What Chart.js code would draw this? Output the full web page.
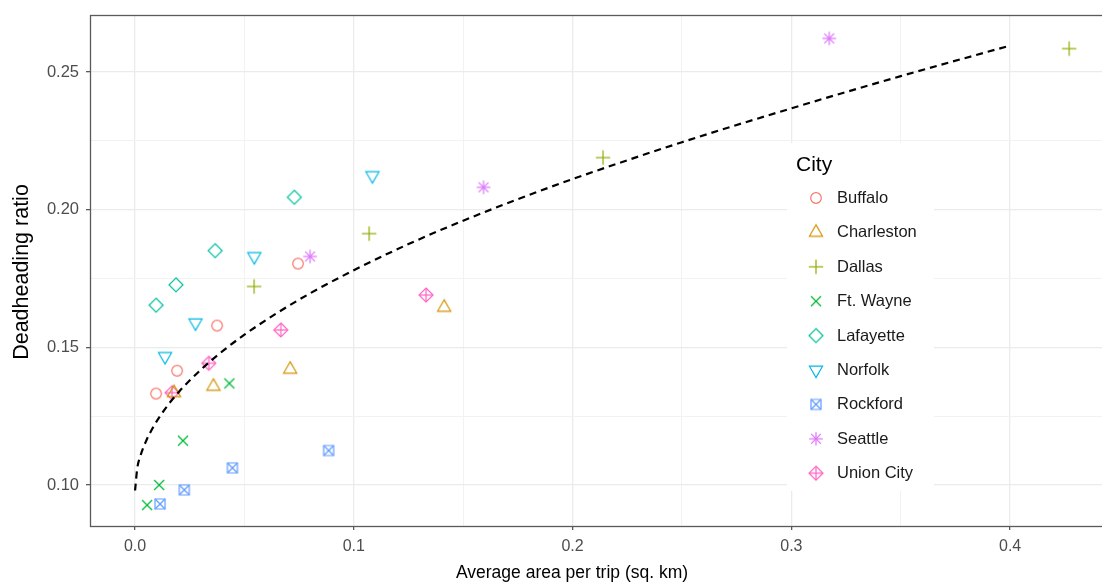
<!DOCTYPE html>
<html>
<head>
<meta charset="utf-8">
<script src="https://cdn.jsdelivr.net/npm/chart.js@4.4.1/dist/chart.umd.min.js"></script>
<style>
html,body{margin:0;padding:0;background:#fff;}
#wrap{width:1102px;height:582px;position:relative;}
</style>
</head>
<body>
<div id="wrap"><canvas id="c" width="1102" height="582"></canvas></div>
<script>
// ---- data ----
const cities = ["Buffalo","Charleston","Dallas","Ft. Wayne","Lafayette","Norfolk","Rockford","Seattle","Union City"];
const cityColors = ["#F8766D","#D39200","#93AA00","#00BA38","#00C19F","#00B9E3","#619CFF","#DB72FB","#FF61C3"];
const cityShapes = ["circle","triangle","plus","cross","diamond","triangleDown","squareCross","asterisk","diamondPlus"];

const buffaloX    = [0.0096, 0.0192, 0.0375, 0.0745];
const buffaloY    = [0.1332, 0.1415, 0.1579, 0.1804];
const charlestonX = [0.0178, 0.0358, 0.0709, 0.1413];
const charlestonY = [0.1335, 0.1358, 0.1420, 0.1645];
const dallasX     = [0.0544, 0.1070, 0.2139, 0.4270];
const dallasY     = [0.1721, 0.1913, 0.2189, 0.2585];
const ftWayneX    = [0.0055, 0.0110, 0.0219, 0.0431];
const ftWayneY    = [0.0927, 0.1000, 0.1161, 0.1369];
const lafayetteX  = [0.0096, 0.0187, 0.0366, 0.0728];
const lafayetteY  = [0.1653, 0.1727, 0.1851, 0.2045];
const norfolkX    = [0.0137, 0.0276, 0.0545, 0.1085];
const norfolkY    = [0.1467, 0.1589, 0.1830, 0.2124];
const rockfordX   = [0.0114, 0.0225, 0.0445, 0.0885];
const rockfordY   = [0.0931, 0.0982, 0.1062, 0.1125];
const seattleX    = [0.0800, 0.1593, 0.3173];
const seattleY    = [0.1830, 0.2081, 0.2622];
const unionCityX  = [0.0169, 0.0337, 0.0666, 0.1330];
const unionCityY  = [0.1335, 0.1442, 0.1563, 0.1690];

const cityX = [buffaloX, charlestonX, dallasX, ftWayneX, lafayetteX, norfolkX, rockfordX, seattleX, unionCityX];
const cityY = [buffaloY, charlestonY, dallasY, ftWayneY, lafayetteY, norfolkY, rockfordY, seattleY, unionCityY];

// dashed fitted curve
const fitX = [0, 0.001, 0.0025, 0.005, 0.0075, 0.01, 0.015, 0.02, 0.03, 0.04, 0.05, 0.065, 0.08, 0.1, 0.125, 0.15, 0.175, 0.2, 0.25, 0.3, 0.35, 0.4];
const fitY = [0.098, 0.106, 0.1107, 0.1159, 0.1199, 0.1233, 0.129, 0.1338, 0.1418, 0.1486, 0.1546, 0.1625, 0.1696, 0.178, 0.1875, 0.196, 0.2038, 0.2111, 0.2245, 0.2368, 0.2485, 0.2596];

// ticks
const xMajor = [0, 0.1, 0.2, 0.3, 0.4];
const xMinor = [0.05, 0.15, 0.25, 0.35];
const xLabels = ["0.0", "0.1", "0.2", "0.3", "0.4"];
const yMajor = [0.10, 0.15, 0.20, 0.25];
const yMinor = [0.125, 0.175, 0.225];
const yLabels = ["0.10", "0.15", "0.20", "0.25"];

const xTitle = "Average area per trip (sq. km)";
const yTitle = "Deadheading ratio";
const legendTitle = "City";

// ---- marker images ----
function makeMarker(shape, color){
  const s = 22, c = s/2;
  const cv = document.createElement('canvas');
  cv.width = s; cv.height = s;
  const g = cv.getContext('2d');
  g.strokeStyle = color; g.lineWidth = 1.2; g.lineCap = 'butt'; g.lineJoin = 'miter';
  const line = (x1,y1,x2,y2)=>{g.beginPath();g.moveTo(c+x1,c+y1);g.lineTo(c+x2,c+y2);g.stroke();};
  const poly = (pts)=>{g.beginPath();pts.forEach((p,i)=>i?g.lineTo(c+p[0],c+p[1]):g.moveTo(c+p[0],c+p[1]));g.closePath();g.stroke();};
  if (shape==="circle"){ g.beginPath(); g.arc(c,c,5.3,0,Math.PI*2); g.stroke(); }
  else if (shape==="triangle"){ const r=7.6; poly([[0,-r],[r*0.866,r*0.5],[-r*0.866,r*0.5]]); }
  else if (shape==="triangleDown"){ const r=7.6; poly([[0,r],[r*0.866,-r*0.5],[-r*0.866,-r*0.5]]); }
  else if (shape==="plus"){ line(-7.2,0,7.2,0); line(0,-7.2,0,7.2); }
  else if (shape==="cross"){ line(-5,-5,5,5); line(-5,5,5,-5); }
  else if (shape==="diamond"){ const r=7; poly([[0,-r],[r,0],[0,r],[-r,0]]); }
  else if (shape==="squareCross"){ const r=5; poly([[-r,-r],[r,-r],[r,r],[-r,r]]); line(-r,-r,r,r); line(-r,r,r,-r); }
  else if (shape==="asterisk"){ line(-6.8,0,6.8,0); line(0,-6.8,0,6.8); line(-4.9,-4.9,4.9,4.9); line(-4.9,4.9,4.9,-4.9); }
  else if (shape==="diamondPlus"){ const r=7; poly([[0,-r],[r,0],[0,r],[-r,0]]); line(-r,0,r,0); line(0,-r,0,r); }
  return cv;
}
const markers = cities.map((n,i)=>makeMarker(cityShapes[i], cityColors[i]));

const datasets = [{
  type: 'line',
  label: 'fit',
  data: fitX.map((x,i)=>({x:x, y:fitY[i]})),
  borderColor: '#000',
  borderWidth: 2.2,
  borderDash: [7,5],
  pointRadius: 0,
  fill: false,
  cubicInterpolationMode: 'monotone',
  order: 0
}];
cities.forEach((name,i)=>{
  datasets.push({
    type: 'scatter',
    label: name,
    data: cityX[i].map((x,j)=>({x:x, y:cityY[i][j]})),
    pointStyle: markers[i],
    pointRadius: 7,
    borderColor: cityColors[i],
    backgroundColor: cityColors[i],
    order: 1
  });
});

const FONT = "'Liberation Sans', Arial, Helvetica, sans-serif";
const isIn = (arr,v)=>arr.some(a=>Math.abs(a-v)<1e-9);

const decor = {
  id: 'decor',
  beforeDatasetsDraw(chart){
    const {ctx} = chart;
    ctx.save();
    ctx.fillStyle = '#fff';
    ctx.fillRect(787, 143, 147, 348);
    ctx.restore();
  },
  afterDraw(chart){
    const {ctx, chartArea:a} = chart;
    ctx.save();
    // panel border
    ctx.strokeStyle = '#5a5a5a';
    ctx.lineWidth = 1.3;
    ctx.strokeRect(a.left+0.5, a.top+0.5, a.right - a.left + 20, a.bottom - a.top);
    // axis titles
    ctx.fillStyle = '#000';
    ctx.textAlign = 'center';
    ctx.textBaseline = 'middle';
    ctx.font = "17.5px " + FONT;
    ctx.fillText(xTitle, 572, 573);
    ctx.save();
    ctx.translate(22, 272);
    ctx.rotate(-Math.PI/2);
    ctx.font = "21.5px " + FONT;
    ctx.fillText(yTitle, 0, 0);
    ctx.restore();
    // legend
    ctx.textAlign = 'left';
    ctx.font = "21px " + FONT;
    ctx.fillText(legendTitle, 796, 165);
    ctx.font = "16.5px " + FONT;
    cities.forEach((name,i)=>{
      const y = 198 + i*34.4;
      const m = markers[i];
      ctx.drawImage(m, 816 - m.width/2, y - m.height/2);
      ctx.fillStyle = '#1a1a1a';
      ctx.fillText(name, 837, y+0.5);
    });
    ctx.restore();
  }
};

new Chart(document.getElementById('c'), {
  data: { datasets },
  options: {
    responsive: false,
    animation: false,
    devicePixelRatio: 1,
    layout: { autoPadding: false, padding: { top: 15, right: 0, left: 0, bottom: 0 } },
    plugins: { legend: { display: false }, tooltip: { enabled: false } },
    scales: {
      x: {
        type: 'linear',
        min: -0.0206,
        max: 0.442,
        afterBuildTicks(s){ s.ticks = xMajor.concat(xMinor).sort((p,q)=>p-q).map(v=>({value:v})); },
        afterFit(s){ s.height = 56; s.paddingRight = 0; s.paddingLeft = 0; },
        ticks: {
          autoSkip: false,
          maxRotation: 0,
          padding: 7,
          color: '#4D4D4D',
          font: { family: FONT, size: 16 },
          callback(v){ const k = xMajor.findIndex(a=>Math.abs(a-v)<1e-9); return k>=0 ? xLabels[k] : ''; }
        },
        grid: {
          color(c){ return isIn(xMajor, c.tick.value) ? '#EBEBEB' : '#F2F2F2'; },
          lineWidth(c){ return isIn(xMajor, c.tick.value) ? 1.3 : 1; },
          tickColor(c){ return isIn(xMajor, c.tick.value) ? '#5a5a5a' : 'rgba(0,0,0,0)'; },
          tickLength: 4,
          tickWidth: 1.3
        },
        border: { display: false }
      },
      y: {
        type: 'linear',
        min: 0.0851,
        max: 0.2707,
        afterBuildTicks(s){ s.ticks = yMajor.concat(yMinor).sort((p,q)=>p-q).map(v=>({value:v})); },
        afterFit(s){ s.width = 90; s.paddingTop = 0; s.paddingBottom = 0; },
        ticks: {
          autoSkip: false,
          padding: 7,
          color: '#4D4D4D',
          font: { family: FONT, size: 16.5 },
          callback(v){ const k = yMajor.findIndex(a=>Math.abs(a-v)<1e-9); return k>=0 ? yLabels[k] : ''; }
        },
        grid: {
          color(c){ return isIn(yMajor, c.tick.value) ? '#EBEBEB' : '#F2F2F2'; },
          lineWidth(c){ return isIn(yMajor, c.tick.value) ? 1.3 : 1; },
          tickColor(c){ return isIn(yMajor, c.tick.value) ? '#5a5a5a' : 'rgba(0,0,0,0)'; },
          tickLength: 4,
          tickWidth: 1.3
        },
        border: { display: false }
      }
    }
  },
  plugins: [decor]
});
</script>
</body>
</html>
